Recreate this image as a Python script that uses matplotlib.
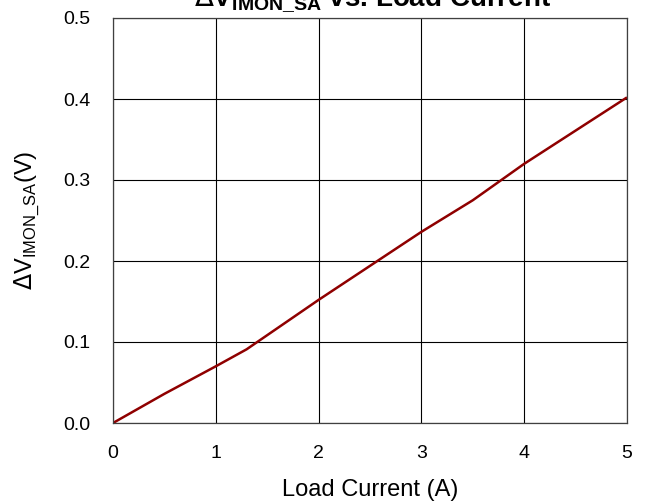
import matplotlib
matplotlib.use("Agg")
import matplotlib.pyplot as plt

plt.rcParams['font.family'] = ['Liberation Sans', 'DejaVu Sans']

current = [0.0, 0.5, 1.0, 1.3, 2.0, 3.0, 3.5, 4.0, 4.5, 5.0]
delta_v = [0.0, 0.036, 0.070, 0.091, 0.152, 0.236, 0.275, 0.320, 0.361, 0.402]
x_ticks = [0, 1, 2, 3, 4, 5]
y_ticks = [0.0, 0.1, 0.2, 0.3, 0.4, 0.5]

fig = plt.figure(figsize=(6.48, 5.01), dpi=100)
ax = fig.add_axes([113/648, 78/501, 514/648, 405/501])
ax.plot(current, delta_v, color='#8f0000', lw=1.8, solid_capstyle='butt')
ax.set_xlim(0, 5)
ax.set_ylim(0, 0.5)
ax.set_xticks(x_ticks)
ax.set_xticklabels([str(t) for t in x_ticks])
ax.set_yticks(y_ticks)
ax.set_yticklabels([f"{t:.1f}" for t in y_ticks])
ax.grid(True, color='black', lw=0.8)
for s in ax.spines.values():
    s.set_color('#404040')
    s.set_linewidth(0.9)
ax.tick_params(length=0, labelsize=14)
ax.tick_params(axis='x', pad=16)
ax.tick_params(axis='y', pad=16)
ax.set_xlabel('Load Current (A)', fontsize=17, labelpad=12)
ax.set_ylabel(r'$\Delta$V$_{\mathregular{IMON\_SA}}$(V)', fontsize=17, labelpad=16)
fig.text(372/648, 1.0 - 5/501, r'$\Delta$V$_{\mathregular{IMON\_SA}}$ vs. Load Current',
         fontsize=20, fontweight='bold', ha='center', va='baseline')
fig.savefig('out.png', dpi=100)
